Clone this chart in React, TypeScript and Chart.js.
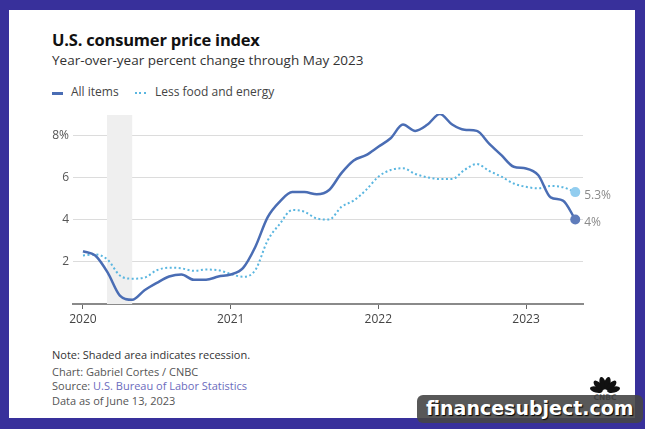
import React, { useEffect, useRef } from "react";
import { Chart, registerables } from "chart.js";

Chart.register(...registerables);

// month index 0 = Jan 2020
const allItems = [
  2.5, 2.3, 1.5, 0.4, 0.2, 0.65, 1.0, 1.3, 1.4, 1.15, 1.15, 1.3,
  1.4, 1.7, 2.7, 4.1, 4.85, 5.3, 5.3, 5.2, 5.4, 6.2, 6.8, 7.05,
  7.45, 7.85, 8.5, 8.2, 8.5, 9.0, 8.5, 8.25, 8.2, 7.6, 7.05, 6.5,
  6.42, 6.1, 5.05, 4.9, 4.0,
];
const lessFoodEnergy = [
  2.3, 2.35, 2.1, 1.35, 1.2, 1.25, 1.6, 1.72, 1.69, 1.57, 1.63, 1.6,
  1.42, 1.29, 1.6, 3.0, 3.8, 4.45, 4.37, 4.05, 4.0, 4.6, 4.9, 5.4,
  6.03, 6.35, 6.43, 6.16, 6.0, 5.92, 5.92, 6.35, 6.63, 6.31, 6.03, 5.71,
  5.55, 5.48, 5.59, 5.53, 5.3,
];
const yearTicks = [0, 12, 24, 36];
const yearLabels = ["2020", "2021", "2022", "2023"];
const yTicks = [2, 4, 6, 8];
const recession = [1.95, 4.0];
const endLabels = ["4%", "5.3%"];

const FONT = "'Open Sans', sans-serif";
const C_ALL = "#4a6db4";
const C_CORE = "#5ab6e0";

export default function App() {
  const ref = useRef<HTMLCanvasElement>(null);

  useEffect(() => {
    document.body.style.margin = "0";
    const canvas = ref.current!;
    const toXY = (arr: number[]) => arr.map((v, i) => ({ x: i, y: v }));
    const lastIdx = allItems.length - 1;

    const shadePlugin = {
      id: "shade",
      beforeDatasetsDraw(chart: any) {
        const { ctx, scales, chartArea } = chart;
        const x0 = scales.x.getPixelForValue(recession[0]);
        const x1 = scales.x.getPixelForValue(recession[1]);
        ctx.save();
        ctx.fillStyle = "#efefef";
        ctx.fillRect(x0, chartArea.top + 1, x1 - x0, chartArea.bottom - chartArea.top - 1);
        ctx.restore();
      },
    };
    const endLabelPlugin = {
      id: "endLabels",
      afterDatasetsDraw(chart: any) {
        const { ctx } = chart;
        ctx.save();
        ctx.font = `12px ${FONT}`;
        ctx.fillStyle = "#8a8a8a";
        ctx.textBaseline = "middle";
        ctx.textAlign = "left";
        chart.data.datasets.forEach((ds: any, di: number) => {
          const meta = chart.getDatasetMeta(di);
          const pt = meta.data[lastIdx];
          ctx.fillText(endLabels[di], pt.x + 9, pt.y + 3);
        });
        ctx.restore();
      },
    };

    const chart = new Chart(canvas, {
      type: "line",
      data: {
        datasets: [
          {
            label: "All items",
            data: toXY(allItems),
            borderColor: C_ALL,
            borderWidth: 2.5,
            cubicInterpolationMode: "monotone",
            pointRadius: (c: any) => (c.dataIndex === lastIdx ? 5 : 0),
            pointBackgroundColor: "#5f7cbb",
            pointBorderWidth: 0,
            order: 1,
          },
          {
            label: "Less food and energy",
            data: toXY(lessFoodEnergy),
            borderColor: C_CORE,
            borderWidth: 2,
            borderDash: [2, 2.5],
            cubicInterpolationMode: "monotone",
            pointRadius: (c: any) => (c.dataIndex === lastIdx ? 5 : 0),
            pointBackgroundColor: "#92cdef",
            pointBorderWidth: 0,
            order: 2,
          },
        ],
      },
      options: {
        animation: false,
        responsive: false,
        maintainAspectRatio: false,
        layout: { padding: { top: 14, right: 62, left: 0, bottom: 0 } },
        plugins: { legend: { display: false }, tooltip: { enabled: false } },
        scales: {
          x: {
            type: "linear",
            min: -0.81,
            max: 40.63,
            afterBuildTicks: (axis: any) => {
              axis.ticks = yearTicks.map((v) => ({ value: v }));
            },
            afterFit: (axis: any) => {
              axis.height = 26;
            },
            ticks: {
              autoSkip: false,
              maxRotation: 0,
              padding: 3,
              color: "#444",
              font: { family: FONT, size: 12 },
              callback: (v: any) => yearLabels[yearTicks.indexOf(Number(v))] ?? "",
            },
            grid: { drawOnChartArea: false, drawTicks: true, tickLength: 5, tickColor: "#666", tickWidth: 1 },
            border: { display: true, color: "#8a8a8a", width: 2 },
          },
          y: {
            type: "linear",
            min: 0,
            max: 9,
            afterBuildTicks: (axis: any) => {
              axis.ticks = yTicks.map((v) => ({ value: v }));
            },
            afterFit: (axis: any) => {
              axis.width = 73;
            },
            ticks: {
              padding: 4,
              color: "#555",
              font: { family: FONT, size: 12 },
              callback: (v: any) => (Number(v) === 8 ? "8%" : String(v)),
            },
            grid: { color: "#dcdcdc", lineWidth: 1, drawTicks: false },
            border: { display: false },
          },
        },
      },
      plugins: [shadePlugin, endLabelPlugin],
    } as any);
    return () => chart.destroy();
  }, []);

  const txt = (extra: React.CSSProperties): React.CSSProperties => ({
    position: "absolute",
    fontFamily: FONT,
    whiteSpace: "nowrap",
    lineHeight: 1,
    ...extra,
  });

  const feathers = [-75, -45, -15, 15, 45, 75];

  return (
    <div style={{ position: "relative", width: 645, height: 429, background: "#38309b", overflow: "hidden" }}>
      <div style={{ position: "absolute", left: 9, top: 10, width: 626, height: 408, background: "#fff" }} />
      <div style={txt({ left: 52, top: 32, fontSize: 16.5, fontWeight: 700, color: "#111", letterSpacing: -0.2 })}>
        U.S. consumer price index
      </div>
      <div style={txt({ left: 52, top: 54, fontSize: 13.5, color: "#333" })}>
        Year-over-year percent change through May 2023
      </div>
      <div style={{ position: "absolute", left: 52, top: 92, width: 11, height: 2.5, background: C_ALL }} />
      <div style={txt({ left: 71, top: 86, fontSize: 12, color: "#444" })}>All items</div>
      <div
        style={{
          position: "absolute",
          left: 135,
          top: 92,
          width: 11,
          height: 2,
          backgroundImage: `repeating-linear-gradient(90deg, ${C_CORE} 0 2px, transparent 2px 4.5px)`,
        }}
      />
      <div style={txt({ left: 155, top: 86, fontSize: 12, color: "#444" })}>Less food and energy</div>

      <canvas ref={ref} width={645} height={230} style={{ position: "absolute", left: 0, top: 100, width: 645, height: 230 }} />

      <div style={txt({ left: 52, top: 349, fontSize: 11, color: "#333" })}>Note: Shaded area indicates recession.</div>
      <div style={txt({ left: 52, top: 366, fontSize: 11, color: "#555" })}>Chart: Gabriel Cortes / CNBC</div>
      <div style={txt({ left: 52, top: 380, fontSize: 11, color: "#555" })}>
        Source: <span style={{ color: "#6b6bbd" }}>U.S. Bureau of Labor Statistics</span>
      </div>
      <div style={txt({ left: 52, top: 395, fontSize: 11, color: "#555" })}>Data as of June 13, 2023</div>

      <svg style={{ position: "absolute", left: 586, top: 375, width: 38, height: 26 }} viewBox="0 0 38 26">
        {feathers.map((a, i) => (
          <ellipse key={i} cx={19} cy={8} rx={3} ry={6.5} fill="#111" transform={`rotate(${a} 19 17)`} />
        ))}
        <text x={19} y={24.5} fontSize={7.5} fontWeight={700} textAnchor="middle" fontFamily="DejaVu Sans" fill="#111">CNBC</text>
      </svg>
      <div
        style={{
          position: "absolute",
          left: 417,
          top: 395,
          width: 226,
          height: 28,
          background: "rgba(70,70,70,0.9)",
          borderRadius: 6,
        }}
      />
      <div
        style={txt({
          left: 426,
          top: 399,
          fontSize: 19,
          fontWeight: 700,
          color: "#fff",
          fontFamily: "'DejaVu Sans', sans-serif",
          textShadow: "1px 1px 1px #000",
        })}
      >
        financesubject.com
      </div>
    </div>
  );
}
